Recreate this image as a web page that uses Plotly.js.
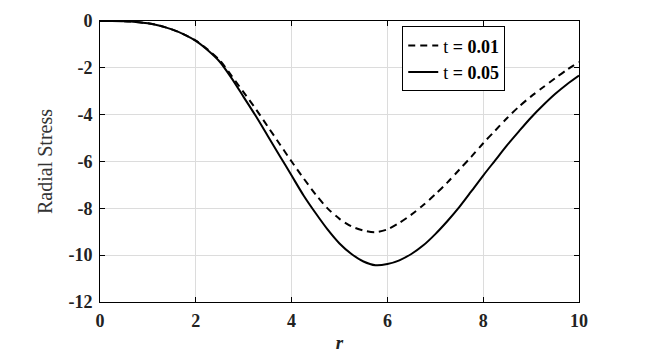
<!DOCTYPE html>
<html>
<head>
<meta charset="utf-8">
<script src="https://cdn.plot.ly/plotly-3.0.1.min.js"></script>
<style>html,body{margin:0;padding:0;background:#fff;}#chart{width:655px;height:361px;}</style>
</head>
<body>
<div id="chart"></div>
<script>
var r = [0, 0.25, 0.5, 0.75, 1.0, 1.25, 1.5, 1.75, 2.0, 2.25, 2.5, 2.75, 3.0, 3.25, 3.5, 3.75, 4.0, 4.25, 4.5, 4.75, 5.0, 5.25, 5.5, 5.75, 6.0, 6.25, 6.5, 6.75, 7.0, 7.25, 7.5, 7.75, 8.0, 8.25, 8.5, 8.75, 9.0, 9.25, 9.5, 9.75, 10.0];
var stress_t001 = [0, 0, -0.01, -0.04, -0.1, -0.2, -0.36, -0.57, -0.84, -1.22, -1.68, -2.35, -3.05, -3.75, -4.5, -5.25, -6.0, -6.72, -7.4, -8.0, -8.45, -8.77, -8.95, -9.02, -8.9, -8.62, -8.27, -7.86, -7.4, -6.9, -6.35, -5.8, -5.22, -4.68, -4.14, -3.65, -3.22, -2.83, -2.45, -2.08, -1.75];
var stress_t005 = [0, 0, -0.01, -0.04, -0.1, -0.2, -0.36, -0.57, -0.85, -1.25, -1.74, -2.45, -3.25, -4.05, -4.9, -5.75, -6.6, -7.45, -8.2, -8.9, -9.5, -9.95, -10.27, -10.43, -10.38, -10.22, -9.95, -9.58, -9.1, -8.55, -7.95, -7.28, -6.6, -5.95, -5.3, -4.7, -4.12, -3.6, -3.12, -2.7, -2.33];
var seriesNames = ['t <b>= 0.01</b>', 't <b>= 0.05</b>'];
var xTicks = [0, 2, 4, 6, 8, 10];
var yTicks = [0, -2, -4, -6, -8, -10, -12];

var serif = "'Liberation Serif', 'Times New Roman', Times, serif";
var traces = [
  {x: r, y: stress_t001, name: seriesNames[0], mode: 'lines', type: 'scatter',
   line: {color: '#000', width: 2, dash: '7px,5px', shape: 'spline', smoothing: 0.8}},
  {x: r, y: stress_t005, name: seriesNames[1], mode: 'lines', type: 'scatter',
   line: {color: '#000', width: 2, shape: 'spline', smoothing: 0.8}}
];
var axisCommon = {
  showline: true, mirror: 'ticks', linecolor: '#000', linewidth: 1,
  ticks: 'inside', ticklen: 5, tickcolor: '#000', tickwidth: 1,
  showgrid: true, gridcolor: '#dcdcdc', gridwidth: 1, zeroline: false,
  tickfont: {family: serif, size: 18, color: '#222'}
};
function boldText(v) { return '<b>' + v + '</b>'; }
var layout = {
  width: 655, height: 361,
  margin: {l: 100, r: 76, t: 21, b: 59},
  paper_bgcolor: '#fff', plot_bgcolor: '#fff',
  showlegend: true,
  legend: {x: 0.631, y: 0.981, xanchor: 'left', yanchor: 'top',
    bordercolor: '#000', borderwidth: 1, bgcolor: '#fff',
    font: {family: serif, size: 18, color: '#000'}, tracegroupgap: 0},
  xaxis: Object.assign({}, axisCommon, {
    range: [0, 10], tickvals: xTicks, ticktext: xTicks.map(boldText), ticklabelstandoff: 2,
    title: {text: '<b><i>r</i></b>', font: {family: serif, size: 19, color: '#222'}, standoff: 6}
  }),
  yaxis: Object.assign({}, axisCommon, {
    range: [-12, 0], tickvals: yTicks, ticktext: yTicks.map(boldText), ticklabelstandoff: 3,
    title: {text: 'Radial Stress', font: {family: serif, size: 20, color: '#333'}, standoff: 10}
  })
};
Plotly.newPlot('chart', traces, layout, {displayModeBar: false, staticPlot: true});
</script>
</body>
</html>
